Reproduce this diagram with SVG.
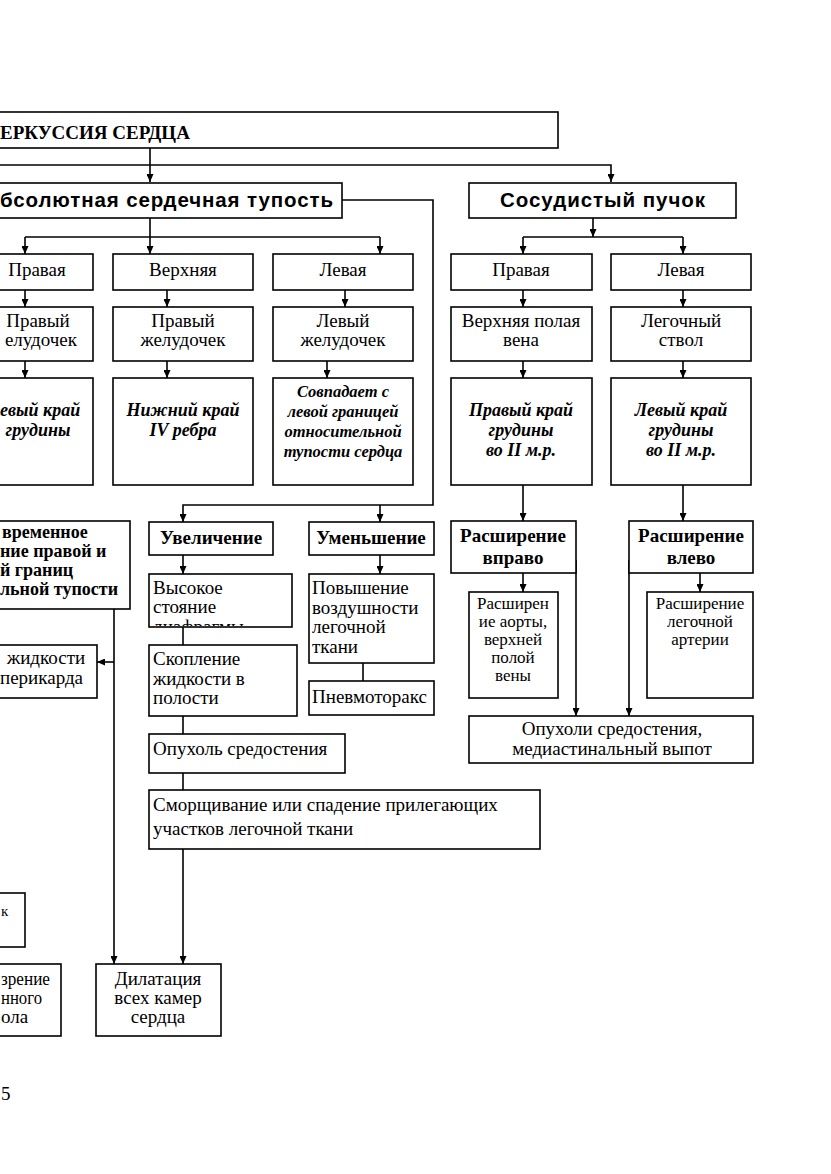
<svg xmlns="http://www.w3.org/2000/svg" width="831" height="1174" viewBox="0 0 831 1174">
<style>
rect.n{fill:#fff;stroke:#000;stroke-width:1.6}
.c path{fill:none;stroke:#000;stroke-width:1.6}
text{font-family:"Liberation Serif","Times New Roman",serif;font-size:19px;fill:#000}
.m{text-anchor:middle}
.e{text-anchor:end}
.b{font-weight:bold}
.bi{font-weight:bold;font-style:italic;font-size:18px}
.s{font-family:"Liberation Sans",Arial,sans-serif;font-weight:bold;font-size:20.5px}
.sm{font-size:17px}
</style>
<defs>
<marker id="ar" markerWidth="8" markerHeight="7" refX="8" refY="3.5" orient="auto" markerUnits="userSpaceOnUse">
<path d="M0,0 L8,3.5 L0,7 z" fill="#000"/>
</marker>
<clipPath id="clipV"><rect x="149" y="574" width="143" height="52"/></clipPath>
</defs>
<rect x="0" y="0" width="831" height="1174" fill="#fff"/>

<g class="c">
<path d="M150,148 V182" marker-end="url(#ar)"/>
<path d="M0,165 H611 V182" marker-end="url(#ar)"/>
<path d="M150,218 V254" marker-end="url(#ar)"/>
<path d="M25,237 H380"/>
<path d="M25,237 V254" marker-end="url(#ar)"/>
<path d="M380,237 V254" marker-end="url(#ar)"/>
<path d="M25,290 V307" marker-end="url(#ar)"/>
<path d="M167,290 V307" marker-end="url(#ar)"/>
<path d="M345,290 V307" marker-end="url(#ar)"/>
<path d="M25,361 V378" marker-end="url(#ar)"/>
<path d="M167,361 V378" marker-end="url(#ar)"/>
<path d="M327,361 V378" marker-end="url(#ar)"/>
<path d="M342,200 H433 V505 H183 V522" marker-end="url(#ar)"/>
<path d="M380,505 V522" marker-end="url(#ar)"/>
<path d="M593,218 V237" marker-end="url(#ar)"/>
<path d="M523,237 H683"/>
<path d="M523,237 V254" marker-end="url(#ar)"/>
<path d="M683,237 V254" marker-end="url(#ar)"/>
<path d="M523,290 V307" marker-end="url(#ar)"/>
<path d="M683,290 V307" marker-end="url(#ar)"/>
<path d="M523,361 V378" marker-end="url(#ar)"/>
<path d="M683,361 V378" marker-end="url(#ar)"/>
<path d="M523,485 V521" marker-end="url(#ar)"/>
<path d="M683,485 V521" marker-end="url(#ar)"/>
<path d="M523,573 V592" marker-end="url(#ar)"/>
<path d="M700,573 V592" marker-end="url(#ar)"/>
<path d="M576,560 V716" marker-end="url(#ar)"/>
<path d="M629,560 V716" marker-end="url(#ar)"/>
<path d="M114,609 V964" marker-end="url(#ar)"/>
<path d="M114,662 H97" marker-end="url(#ar)"/>
<path d="M183,555 V574" marker-end="url(#ar)"/>
<path d="M183,627 V645"/>
<path d="M183,716 V734"/>
<path d="M183,773 V790"/>
<path d="M183,849 V964" marker-end="url(#ar)"/>
<path d="M380,555 V574" marker-end="url(#ar)"/>
<path d="M363,663 V681"/>
</g>

<g id="perc"><rect class="n" x="-10" y="112" width="568" height="36"/>
<text class="b" x="0" y="139">ЕРКУССИЯ СЕРДЦА</text></g>

<g id="abs"><rect class="n" x="-10" y="183" width="352" height="35"/>
<text class="s" x="0" y="207" textLength="333" lengthAdjust="spacing">бсолютная сердечная тупость</text></g>

<g id="sos"><rect class="n" x="469" y="183" width="267" height="35"/>
<text class="s" x="500" y="207" textLength="205" lengthAdjust="spacing">Сосудистый пучок</text></g>

<g id="r1a"><rect class="n" x="-10" y="254" width="103" height="36"/><text class="m" x="37" y="276">Правая</text></g>
<g id="r1b"><rect class="n" x="113" y="254" width="140" height="36"/><text class="m" x="183" y="276">Верхняя</text></g>
<g id="r1c"><rect class="n" x="273" y="254" width="140" height="36"/><text class="m" x="343" y="276">Левая</text></g>
<g id="r1d"><rect class="n" x="451" y="254" width="141" height="36"/><text class="m" x="521" y="276">Правая</text></g>
<g id="r1e"><rect class="n" x="611" y="254" width="140" height="36"/><text class="m" x="681" y="276">Левая</text></g>

<g id="r2a"><rect class="n" x="-10" y="307" width="103" height="54"/><text class="m" x="38" y="327">Правый</text><text class="e" x="77" y="346">елудочек</text></g>
<g id="r2b"><rect class="n" x="113" y="307" width="140" height="54"/><text class="m" x="183" y="327">Правый</text><text class="m" x="183" y="346">желудочек</text></g>
<g id="r2c"><rect class="n" x="273" y="307" width="140" height="54"/><text class="m" x="343" y="327">Левый</text><text class="m" x="343" y="346">желудочек</text></g>
<g id="r2d"><rect class="n" x="451" y="307" width="141" height="54"/><text class="m" x="521" y="327">Верхняя полая</text><text class="m" x="521" y="346">вена</text></g>
<g id="r2e"><rect class="n" x="611" y="307" width="140" height="54"/><text class="m" x="681" y="327">Легочный</text><text class="m" x="681" y="346">ствол</text></g>

<g id="r3a"><rect class="n" x="-10" y="378" width="103" height="107"/><text class="bi" x="0" y="416">евый край</text><text class="bi m" x="38" y="436">грудины</text></g>
<g id="r3b"><rect class="n" x="113" y="378" width="140" height="107"/><text class="bi m" x="183" y="416">Нижний край</text><text class="bi m" x="183" y="436">IV ребра</text></g>
<g id="r3c"><rect class="n" x="273" y="378" width="140" height="107"/>
<text class="bi m" x="343" y="397" style="font-size:16.5px">Совпадает с</text>
<text class="bi m" x="343" y="417" style="font-size:16.5px">левой границей</text>
<text class="bi m" x="343" y="437" style="font-size:16.5px">относительной</text>
<text class="bi m" x="343" y="457" style="font-size:16.5px">тупости сердца</text></g>
<g id="r3d"><rect class="n" x="451" y="378" width="141" height="107"/><text class="bi m" x="521" y="416">Правый край</text><text class="bi m" x="521" y="436">грудины</text><text class="bi m" x="521" y="456">во II м.р.</text></g>
<g id="r3e"><rect class="n" x="611" y="378" width="140" height="107"/><text class="bi m" x="681" y="416">Левый край</text><text class="bi m" x="681" y="436">грудины</text><text class="bi m" x="681" y="456">во II м.р.</text></g>

<g id="odnovr"><rect class="n" x="-10" y="521" width="140" height="88"/>
<text class="b" x="2" y="538" style="font-size:18px">временное</text>
<text class="b" x="0" y="557" style="font-size:18px">ние правой и</text>
<text class="b" x="0" y="576" style="font-size:18px">й границ</text>
<text class="b" x="0" y="595" style="font-size:18px">льной тупости</text></g>

<g id="zhidk"><rect class="n" x="-10" y="645" width="107" height="53"/><text x="7" y="664">жидкости</text><text x="0" y="684">перикарда</text></g>

<g id="uvel"><rect class="n" x="149" y="522" width="124" height="33"/><text class="b m" x="211" y="544">Увеличение</text></g>
<g id="umen"><rect class="n" x="309" y="522" width="125" height="33"/><text class="b m" x="371" y="544">Уменьшение</text></g>

<g id="vysok"><rect class="n" x="149" y="574" width="143" height="53"/>
<text x="153" y="594">Высокое</text><text x="153" y="613">стояние</text><text x="153" y="633" clip-path="url(#clipV)">диафрагмы</text></g>
<g id="skopl"><rect class="n" x="149" y="645" width="148" height="71"/>
<text x="153" y="665">Скопление</text><text x="153" y="685">жидкости в</text><text x="153" y="704">полости</text></g>
<g id="opuh1"><rect class="n" x="149" y="734" width="196" height="39"/><text x="153" y="755">Опухоль средостения</text></g>
<g id="smor"><rect class="n" x="149" y="790" width="391" height="59"/>
<text x="153" y="811">Сморщивание или спадение прилегающих</text><text x="153" y="835">участков легочной ткани</text></g>

<g id="povysh"><rect class="n" x="309" y="574" width="125" height="89"/>
<text x="312" y="594">Повышение</text><text x="312" y="614">воздушности</text><text x="312" y="633">легочной</text><text x="312" y="653">ткани</text></g>
<g id="pnev"><rect class="n" x="309" y="681" width="125" height="34"/><text x="312" y="703">Пневмоторакс</text></g>

<g id="rasv"><rect class="n" x="451" y="521" width="125" height="52"/><text class="b m" x="513" y="542">Расширение</text><text class="b m" x="513" y="564">вправо</text></g>
<g id="rasl"><rect class="n" x="629" y="521" width="124" height="52"/><text class="b m" x="691" y="542">Расширение</text><text class="b m" x="691" y="564">влево</text></g>

<g id="aorta"><rect class="n" x="469" y="592" width="89" height="106"/>
<text class="m sm" x="513" y="609">Расширен</text><text class="m sm" x="513" y="627">ие аорты,</text><text class="m sm" x="513" y="645">верхней</text><text class="m sm" x="513" y="663">полой</text><text class="m sm" x="513" y="681">вены</text></g>
<g id="legart"><rect class="n" x="647" y="592" width="106" height="106"/>
<text class="m sm" x="700" y="609">Расширение</text><text class="m sm" x="700" y="627">легочной</text><text class="m sm" x="700" y="645">артерии</text></g>

<g id="opuh2"><rect class="n" x="469" y="716" width="284" height="47"/>
<text class="m" x="612" y="735">Опухоли средостения,</text><text class="m" x="612" y="755">медиастинальный выпот</text></g>

<g id="small"><rect class="n" x="-10" y="893" width="35" height="54"/><text x="1" y="916" style="font-size:15px">к</text></g>
<g id="rassos"><rect class="n" x="-10" y="964" width="71" height="72"/>
<text x="1" y="985" textLength="49" lengthAdjust="spacingAndGlyphs">зрение</text><text x="1" y="1004" textLength="41" lengthAdjust="spacingAndGlyphs">нного</text><text x="1" y="1023">ола</text></g>
<g id="dilat"><rect class="n" x="96" y="964" width="125" height="72"/>
<text class="m" x="158" y="985">Дилатация</text><text class="m" x="158" y="1004">всех камер</text><text class="m" x="158" y="1023">сердца</text></g>

<text x="1" y="1100">5</text>
</svg>
